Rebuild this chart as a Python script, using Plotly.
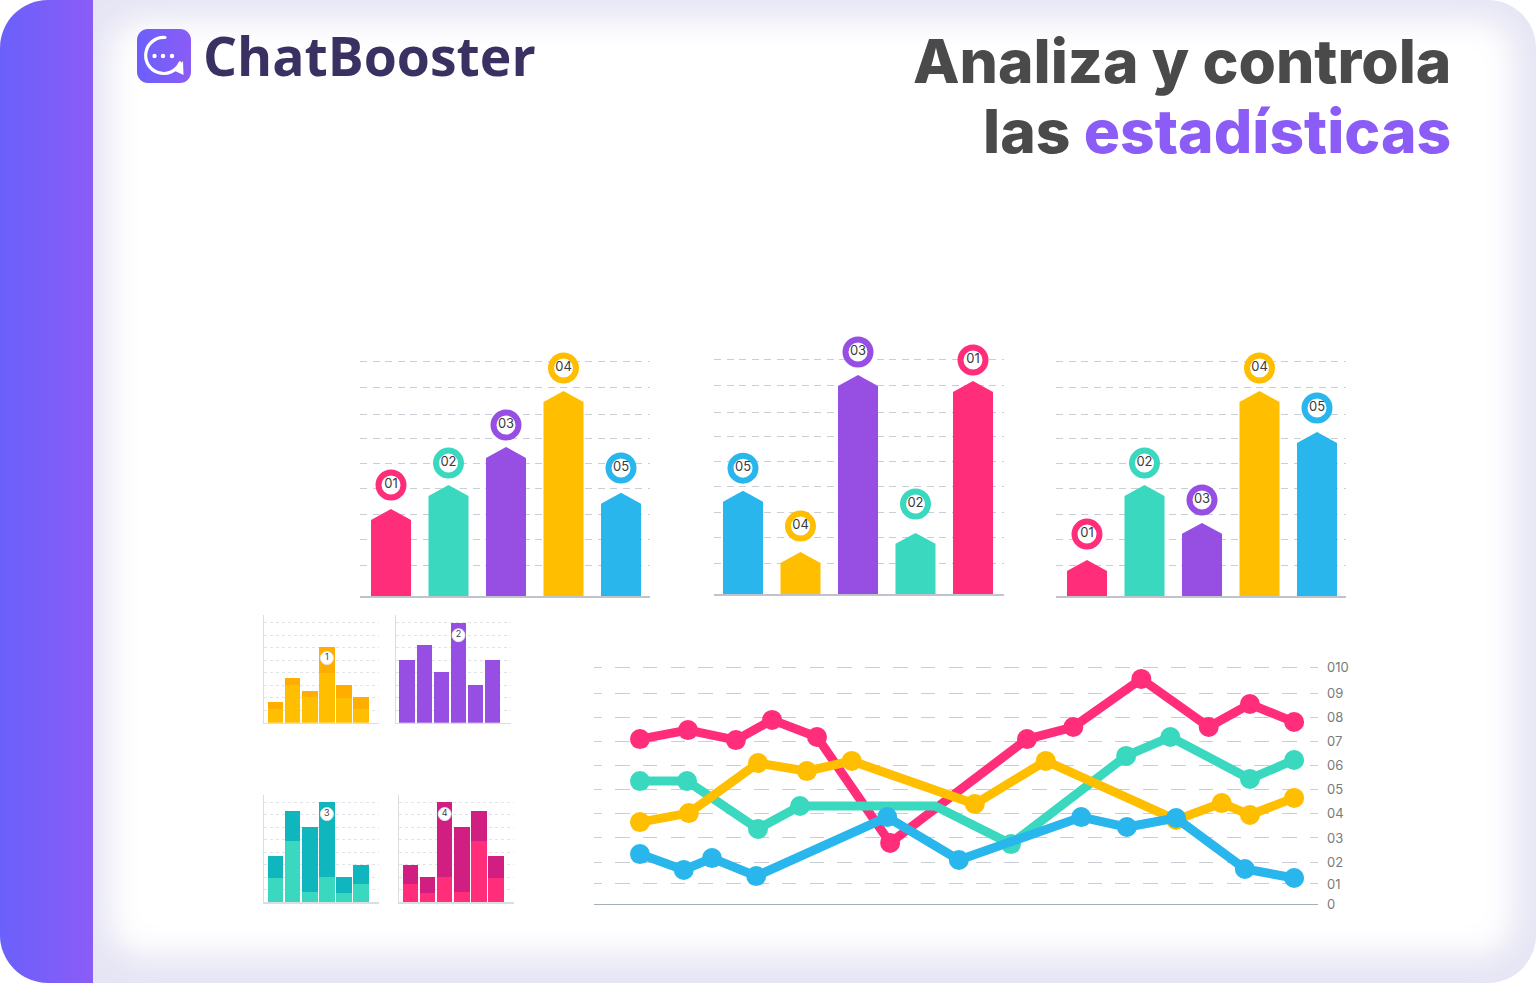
import base64
import plotly.graph_objects as go

W, H = 1536, 983
PINK, TEAL, PURPLE, YELLOW, BLUE = "#FF2D7A", "#3AD9BF", "#974FE3", "#FFBE00", "#29B6EC"

# Arrow-bar panels
p1_labels = ["01", "02", "03", "04", "05"]
p1_values = [3.33, 4.25, 5.71, 7.85, 3.95]
p1_badges = [4.25, 5.09, 6.55, 8.73, 4.90]
p1_colors = [PINK, TEAL, PURPLE, YELLOW, BLUE]

p2_labels = ["05", "04", "03", "02", "01"]
p2_values = [3.95, 1.61, 8.39, 2.34, 8.16]
p2_badges = [4.82, 2.60, 9.27, 3.45, 8.96]
p2_colors = [BLUE, YELLOW, PURPLE, TEAL, PINK]

p3_labels = ["01", "02", "03", "04", "05"]
p3_values = [1.38, 4.25, 2.80, 7.85, 6.28]
p3_badges = [2.37, 5.09, 3.68, 8.73, 7.20]
p3_colors = [PINK, TEAL, PURPLE, YELLOW, BLUE]

arrow_grid = [1.15, 2.15, 3.11, 4.10, 5.09, 6.05, 6.97, 7.97, 9.0]

# Small stacked-bar panels
s1_lower = [1.07, 3.0, 2.03, 4.0, 2.0, 1.07]
s1_total = [1.63, 3.55, 2.53, 6.05, 3.04, 2.03]
s2_lower = [5.0, 6.2, 4.03, 7.95, 3.04, 5.0]
s2_total = [5.0, 6.2, 4.03, 7.95, 3.04, 5.0]
s3_lower = [1.95, 4.93, 0.8, 2.0, 0.72, 1.47]
s3_total = [3.73, 7.33, 6.03, 8.0, 2.0, 3.01]
s4_lower = [1.47, 0.72, 2.0, 0.8, 4.93, 1.95]
s4_total = [3.01, 2.0, 8.0, 6.03, 7.33, 3.73]

# Line chart
pink_x = [6.35, 12.98, 19.6, 24.6, 30.8, 40.9, 59.8, 66.2, 75.6, 84.9, 90.6, 96.7]
pink_y = [6.97, 7.35, 6.93, 7.78, 7.06, 2.59, 6.97, 7.48, 9.51, 7.48, 8.45, 7.69]
teal_x = [6.35, 12.85, 22.65, 28.45, 47.1, 57.6, 73.5, 79.6, 90.6, 96.7]
teal_y = [5.2, 5.2, 3.18, 4.15, 4.15, 2.54, 6.26, 7.06, 5.29, 6.09]
teal_dots = [1, 1, 1, 1, 0, 1, 1, 1, 1, 1]
yellow_x = [6.35, 13.1, 22.65, 29.4, 35.6, 52.6, 62.4, 80.4, 86.7, 90.6, 96.7]
yellow_y = [3.47, 3.85, 5.96, 5.62, 6.05, 4.23, 6.05, 3.56, 4.27, 3.77, 4.49]
blue_x = [6.35, 12.4, 16.3, 22.4, 40.5, 50.4, 67.3, 73.6, 80.4, 89.9, 96.7]
blue_y = [2.12, 1.45, 1.95, 1.19, 3.68, 1.87, 3.68, 3.26, 3.64, 1.49, 1.11]
line_ticks = [0, 0.857, 1.785, 2.8, 3.84, 4.85, 5.87, 6.88, 7.89, 8.9, 10]
line_labels = ["0", "01", "02", "03", "04", "05", "06", "07", "08", "09", "010"]

fig = go.Figure()
layout_axes = {}
axis_n = [0]


def new_axes(x0, x1, y_top, y_bot, xrange, yrange, xopts, yopts):
    axis_n[0] += 1
    n = axis_n[0]
    s = "" if n == 1 else str(n)
    layout_axes["xaxis" + s] = dict(domain=[x0 / W, x1 / W], range=xrange, anchor="y" + s,
                                    showgrid=False, zeroline=False, showticklabels=False, ticks="",
                                    fixedrange=True, **xopts)
    layout_axes["yaxis" + s] = dict(domain=[1 - y_bot / H, 1 - y_top / H], range=yrange, anchor="x" + s,
                                    zeroline=False, ticks="", fixedrange=True, **yopts)
    return "x" + s, "y" + s


def arrow_panel(x0, x1, y_bot, center0, values, badges, labels, colors):
    step = 57.5
    xr = [(x0 - center0) / step, (x1 - center0) / step]
    xa, ya = new_axes(x0, x1, y_bot - 261.1, y_bot, xr, [0, 10],
                      dict(showline=True, linecolor="#BFC4CC", linewidth=1.5),
                      dict(showline=False, showticklabels=False, showgrid=True, tickvals=arrow_grid,
                           gridcolor="#C9CDD6", gridwidth=1, griddash="7px,5.5px"))
    half, shoulder = 0.348, 0.42
    for i, v in enumerate(values):
        fig.add_trace(go.Scatter(
            x=[i - half, i - half, i, i + half, i + half, i - half],
            y=[0, v - shoulder, v, v - shoulder, 0, 0],
            mode="lines", fill="toself", fillcolor=colors[i], line=dict(width=0, color=colors[i]),
            xaxis=xa, yaxis=ya, hoverinfo="skip", showlegend=False))
    fig.add_trace(go.Scatter(
        x=list(range(len(values))), y=badges, text=labels, mode="markers+text",
        textposition="middle center", cliponaxis=False,
        textfont=dict(family="Inter", size=13, color="#3A3A3A"),
        marker=dict(size=25, color="white", line=dict(width=6, color=colors)),
        xaxis=xa, yaxis=ya, hoverinfo="skip", showlegend=False))


arrow_panel(360, 650, 596, 391, p1_values, p1_badges, p1_labels, p1_colors)
arrow_panel(714, 1004, 594, 743, p2_values, p2_badges, p2_labels, p2_colors)
arrow_panel(1056, 1346, 596, 1087, p3_values, p3_badges, p3_labels, p3_colors)


def small_panel(x0, y_bot, center0, lower, total, low_color, up_color, badge_i, badge_y, badge_text):
    step = 17.1
    xr = [(x0 - center0) / step, (x0 + 115 - center0) / step]
    xa, ya = new_axes(x0, x0 + 115, y_bot - 107.5, y_bot, xr, [0, 8.6],
                      dict(showline=True, linecolor="#DCDDE2", linewidth=1.5),
                      dict(showline=True, linecolor="#DCDDE2", linewidth=1.5, showticklabels=False,
                           showgrid=True, tickvals=list(range(1, 9)),
                           gridcolor="#E2E3E8", gridwidth=1, griddash="3px,3px"))
    xs = list(range(len(total)))
    fig.add_trace(go.Bar(x=xs, y=lower, marker=dict(color=low_color, line=dict(width=0)), xaxis=xa, yaxis=ya,
                         hoverinfo="skip", showlegend=False))
    fig.add_trace(go.Bar(x=xs, y=[t - l for t, l in zip(total, lower)],
                         marker=dict(color=up_color, line=dict(width=0)), xaxis=xa, yaxis=ya,
                         hoverinfo="skip", showlegend=False))
    fig.add_trace(go.Scatter(
        x=[badge_i], y=[badge_y], text=[badge_text], mode="markers+text", textposition="middle center",
        cliponaxis=False, textfont=dict(family="Inter", size=9, color="#444444"),
        marker=dict(size=13, color="white", line=dict(width=1, color="#E4E4E8")),
        xaxis=xa, yaxis=ya, hoverinfo="skip", showlegend=False))


small_panel(264, 722.7, 275.6, s1_lower, s1_total, "#FFBE00", "#FFAE00", 3, 5.17, "1")
small_panel(396, 722.7, 407.2, s2_lower, s2_total, PURPLE, PURPLE, 3, 7.0, "2")
small_panel(264, 902.3, 275.6, s3_lower, s3_total, TEAL, "#10B6BE", 3, 7.06, "3")
small_panel(399.3, 902.3, 410.5, s4_lower, s4_total, PINK, "#D01F80", 2, 7.06, "4")

# Line chart
dash = "8px,13px," + ",".join(["14.5px,13.3px"] * 27)
xa, ya = new_axes(594, 1318, 643.6, 904.3, [0, 100], [0, 11],
                  dict(showline=True, linecolor="#A5ADB5", linewidth=1),
                  dict(showline=False, showgrid=True, side="right", tickvals=line_ticks, ticktext=line_labels,
                       gridcolor="#C9CDD6", gridwidth=1, griddash=dash, ticklabelstandoff=8,
                       tickfont=dict(family="Inter", size=13, color="#7A7A7A")))
for lx, ly, col, dots in [(pink_x, pink_y, PINK, None), (teal_x, teal_y, TEAL, teal_dots),
                          (yellow_x, yellow_y, YELLOW, None), (blue_x, blue_y, BLUE, None)]:
    sizes = 20 if dots is None else [20 * d for d in dots]
    fig.add_trace(go.Scatter(x=lx, y=ly, mode="lines+markers", cliponaxis=False,
                             line=dict(color=col, width=9),
                             marker=dict(color=col, size=sizes, opacity=1, line=dict(width=0)),
                             xaxis=xa, yaxis=ya, hoverinfo="skip", showlegend=False))

# Page background and logo artwork
svg = f"""<svg xmlns="http://www.w3.org/2000/svg" width="{W}" height="{H}" viewBox="0 0 {W} {H}">
<defs>
<linearGradient id="g" x1="0" x2="1" y1="0" y2="0"><stop offset="0" stop-color="#6B60FB"/><stop offset="1" stop-color="#8B5CF6"/></linearGradient>
<filter id="b" x="-10%" y="-10%" width="120%" height="120%"><feGaussianBlur stdDeviation="15"/></filter>
<clipPath id="c"><rect x="0" y="0" width="{W}" height="{H}" rx="48" ry="48"/></clipPath>
</defs>
<rect width="{W}" height="{H}" fill="white"/>
<g clip-path="url(#c)">
<rect width="{W}" height="{H}" fill="#E6E5F4"/>
<rect x="110" y="20" width="1404" height="935" rx="34" fill="white" filter="url(#b)"/>
<rect x="0" y="0" width="93" height="{H}" fill="url(#g)"/>
</g>
<rect x="137" y="29" width="54" height="54" rx="11" fill="url(#g)"/>
<path d="M165 37.5 A18 18 0 1 0 180 63" fill="none" stroke="white" stroke-width="3.2" stroke-linecap="round"/>
<path d="M183 61 L183.5 75 L175 71 Z" fill="white"/>
<circle cx="154.5" cy="56" r="2.2" fill="white"/><circle cx="163" cy="56" r="2.2" fill="white"/><circle cx="172" cy="56" r="2.2" fill="white"/>
</svg>"""
bg = "data:image/svg+xml;base64," + base64.b64encode(svg.encode()).decode()

annotations = [
    dict(text="ChatBooster", x=202 / W, y=1 - 55 / H, xanchor="left", yanchor="middle",
         font=dict(family="Open Sans", size=53.5, color="#3A3162", weight=700)),
    dict(text="Analiza y controla", x=1452 / W, y=1 - 61 / H, xanchor="right", yanchor="middle",
         font=dict(family="Inter", size=60.5, color="#4A4A4A", weight=800)),
    dict(text='las <span style="color:#8B5CF6">estadísticas</span>', x=1452 / W, y=1 - 131 / H,
         xanchor="right", yanchor="middle",
         font=dict(family="Inter", size=60.5, color="#4A4A4A", weight=800)),
]
for a in annotations:
    a.update(xref="paper", yref="paper", showarrow=False, align="right", borderpad=0)

fig.update_layout(
    width=W, height=H, autosize=False, margin=dict(l=0, r=0, t=0, b=0, pad=0, autoexpand=False),
    paper_bgcolor="white", plot_bgcolor="rgba(0,0,0,0)", barmode="stack", bargap=0.09,
    showlegend=False, annotations=annotations,
    images=[dict(source=bg, xref="paper", yref="paper", x=0, y=1, sizex=1, sizey=1,
                 xanchor="left", yanchor="top", sizing="stretch", layer="below")],
    **layout_axes)

post = "document.documentElement.style.margin='0';document.body.style.margin='0';document.documentElement.style.overflow='hidden';"
fig.write_html("out.html", config=dict(displayModeBar=False, staticPlot=True), post_script=post)
